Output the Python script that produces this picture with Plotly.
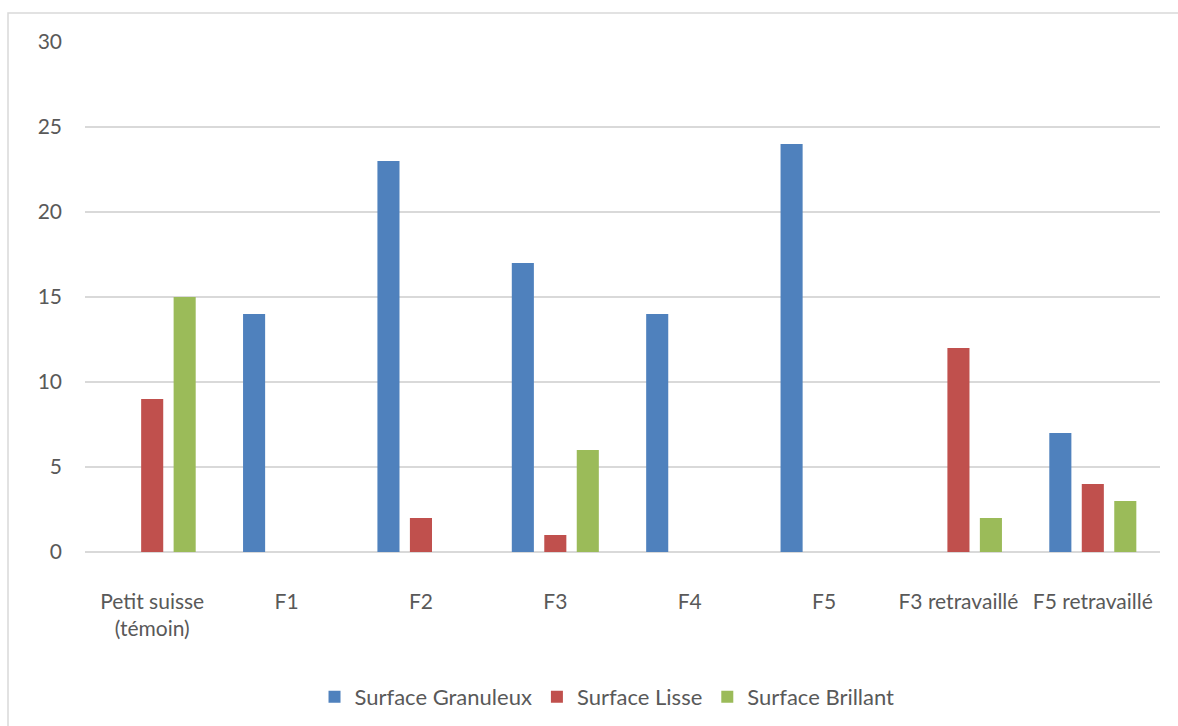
import plotly.graph_objects as go

categories = ["Petit suisse<br>(témoin)", "F1", "F2", "F3", "F4", "F5",
              "F3 retravaillé", "F5 retravaillé"]
granuleux = [0, 14, 23, 17, 14, 24, 0, 7]
lisse = [9, 0, 2, 1, 0, 0, 12, 4]
brillant = [15, 0, 0, 6, 0, 0, 2, 3]

series = [
    ("Surface Granuleux", granuleux, "#4F81BD"),
    ("Surface Lisse", lisse, "#C0504D"),
    ("Surface Brillant", brillant, "#9BBB59"),
]

FONT = "Lato, 'Open Sans', sans-serif"
TEXT = "#595959"

fig = go.Figure()
for name, vals, color in series:
    fig.add_trace(go.Bar(
        x=categories, y=vals, name=name,
        marker=dict(color=color, line=dict(width=0)),
    ))

fig.update_layout(
    width=1178, height=726,
    margin=dict(l=85, r=18, t=42, b=174, autoexpand=False),
    paper_bgcolor="white", plot_bgcolor="white",
    barmode="group", bargap=0.275, bargroupgap=0.32,
    font=dict(family=FONT, size=21, color=TEXT),
    showlegend=True,
    legend=dict(
        orientation="h", x=0.4856, xanchor="center", y=-0.284, yanchor="middle",
        font=dict(family=FONT, size=22, color=TEXT),
        itemwidth=30, traceorder="normal",
    ),
    xaxis=dict(
        automargin=False,
        showgrid=False, showline=False, zeroline=False, ticks="",
        tickfont=dict(family=FONT, size=21, color=TEXT),
        ticklabelstandoff=35,
    ),
    yaxis=dict(
        automargin=False,
        range=[0, 30], dtick=5, tick0=0,
        showgrid=True, gridcolor="#D9D9D9", gridwidth=1.5,
        zeroline=True, zerolinecolor="#D9D9D9", zerolinewidth=1.5,
        showline=False, ticks="",
        tickfont=dict(family=FONT, size=21, color=TEXT),
        ticklabelstandoff=22,
    ),
    shapes=[dict(
        type="rect", xref="paper", yref="paper",
        x0=(8 - 85) / 1075, x1=(1182 - 85) / 1075,
        y0=(552 - 732) / 510, y1=(552 - 13) / 510,
        line=dict(color="#D9D9D9", width=1.5), fillcolor="rgba(0,0,0,0)",
        layer="below",
    )],
)

fig.write_html("out.html")
